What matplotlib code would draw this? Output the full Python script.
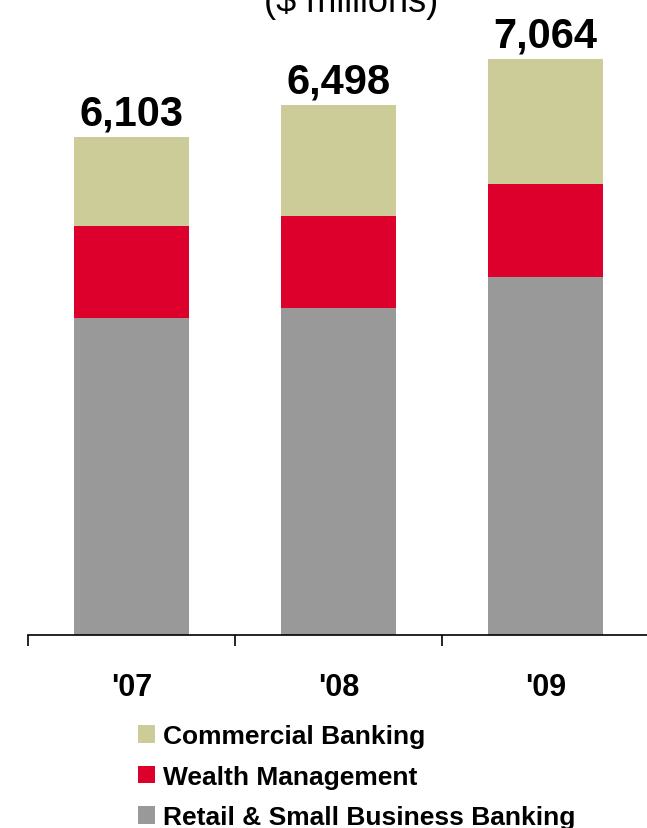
import numpy as np
import matplotlib
matplotlib.use('Agg')
import matplotlib.pyplot as plt

# revenue by segment, $ millions
years = ["'07", "'08", "'09"]
retail = [3885, 4010, 4390]
wealth = [1128, 1127, 1140]
commercial = [1090, 1361, 1534]
totals = [6103, 6498, 7064]

plt.rcParams['font.family'] = ['Liberation Sans', 'DejaVu Sans']

fig = plt.figure(figsize=(6.47, 8.29), dpi=100)
ax = fig.add_axes([28/647, 193/829, 621/647, 636/829])

x = np.arange(len(years))
w = 0.556
b1 = ax.bar(x, retail, w, color='#999999', label='Retail & Small Business Banking')
b2 = ax.bar(x, wealth, w, bottom=retail, color='#DD002D', label='Wealth Management')
bottom3 = np.array(retail) + np.array(wealth)
b3 = ax.bar(x, commercial, w, bottom=bottom3, color='#CCCC99', label='Commercial Banking')

# totals on top of each stack
for xi, t in zip(x, totals):
    ax.annotate(f'{t:,}', (xi, t), xytext=(0, 9), textcoords='offset points',
                ha='center', va='baseline', fontsize=30, fontweight='bold')

ax.set_xlim(-0.5, 2.5)
ax.set_ylim(0, 7794)
for s in ['left', 'right', 'top']:
    ax.spines[s].set_visible(False)
ax.spines['bottom'].set_linewidth(1.2)
ax.set_yticks([])
ax.set_xticks(x)
ax.set_xticklabels(years, fontsize=22, fontweight='bold')
ax.tick_params(axis='x', which='major', length=0, pad=27)
ax.set_xticks([-0.5, 0.5, 1.5, 2.5], minor=True)
ax.tick_params(axis='x', which='minor', length=8, width=1.2, direction='out')

fig.text(351/647, (829-12)/829, '($ millions)', ha='center', va='baseline', fontsize=26)

ax.legend(handles=[b3, b2, b1], loc='upper left',
          bbox_to_anchor=(138/647, (829-725)/829), bbox_transform=fig.transFigure,
          frameon=False, handlelength=0.65, handleheight=0.65,
          handletextpad=0.3, labelspacing=0.63, borderpad=0, borderaxespad=0,
          prop={'weight': 'bold', 'size': 19})

fig.savefig('out.png', dpi=100)
